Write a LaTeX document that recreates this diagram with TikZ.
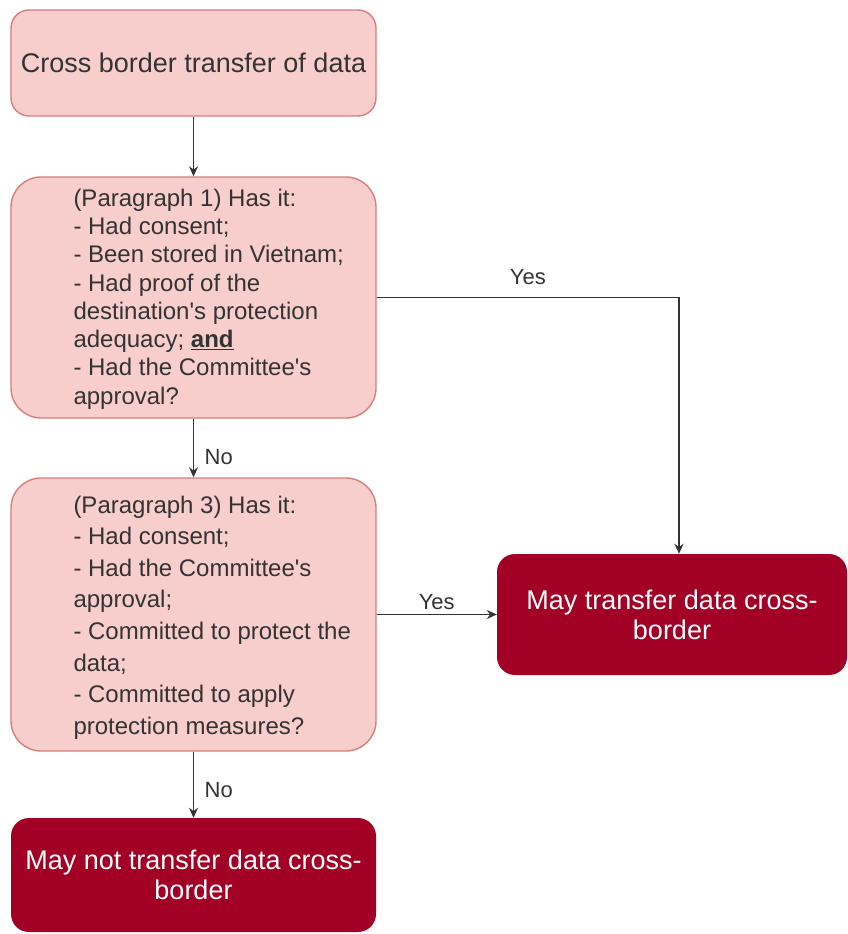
\documentclass[tikz,border=0pt]{standalone}
\usepackage{fontspec}
\setmainfont{Liberation Sans}
\usetikzlibrary{arrows.meta}
\definecolor{pinkfill}{HTML}{F8CECC}
\definecolor{pinkline}{HTML}{D37F7C}
\definecolor{crimson}{HTML}{A20025}
\definecolor{inkgray}{HTML}{333333}

\begin{document}
\begin{tikzpicture}[x=1pt, y=-1pt, >={Stealth[length=10pt,width=9pt]},
  startbox/.style={draw=pinkline, fill=pinkfill, line width=1.4pt, rounded corners=18pt,
    minimum width=365pt, minimum height=106pt, text=inkgray, font=\fontsize{27}{31}\selectfont},
  askbox/.style={draw=pinkline, fill=pinkfill, line width=1.4pt, rounded corners=30pt,
    minimum width=365pt},
  asktext/.style={anchor=west, align=left, text=inkgray, inner sep=0pt},
  endbox/.style={fill=crimson, rounded corners=18pt, text=white, align=center,
    font=\fontsize{27}{30}\selectfont},
  flow/.style={->, draw=inkgray, line width=1.6pt},
  answer/.style={text=inkgray, font=\fontsize{22}{26}\selectfont}]

\useasboundingbox (0,0) rectangle (848,934);

% start
\node[startbox] (start) at (193.5,63) {Cross border transfer of data};

% paragraph 1 test
\node[askbox, minimum height=241pt] (para1) at (193.5,297.5) {};
\node[asktext, font=\fontsize{24}{28.3}\selectfont] (para1txt) at ([xshift=63pt,yshift=-1.5pt]para1.west)
  {(Paragraph 1) Has it:\\
   - Had consent;\\
   - Been stored in Vietnam;\\
   - Had proof of the\\
   destination\textquotesingle s protection\\
   adequacy; \underline{\textbf{and}}\\
   - Had the Committee\textquotesingle s\\
   approval?};

% paragraph 3 test
\node[askbox, minimum height=273pt] (para3) at (193.5,614.5) {};
\node[asktext, font=\fontsize{24}{31.6}\selectfont] (para3txt) at ([xshift=63pt,yshift=-3pt]para3.west)
  {(Paragraph 3) Has it:\\
   - Had consent;\\
   - Had the Committee\textquotesingle s\\
   approval;\\
   - Committed to protect the\\
   data;\\
   - Committed to apply\\
   protection measures?};

% outcomes
\node[endbox, minimum width=350pt, minimum height=121pt] (may) at (672,614.5)
  {May transfer data cross-\\border};
\node[endbox, minimum width=365pt, minimum height=114pt] (maynot) at (193.5,875)
  {May not transfer data cross-\\border};

\draw[flow] (start) -- (para1);
\draw[flow] (para1.east) -| ([xshift=7pt]may.north) node[pos=0.25, above, answer, yshift=9pt] {Yes};
\draw[flow] (para1) -- (para3) node[midway, right, answer, xshift=7pt, yshift=-9pt] {No};
\draw[flow] (para3) -- (may) node[midway, above, answer, yshift=1pt] {Yes};
\draw[flow] (para3) -- (maynot) node[midway, right, answer, xshift=7pt, yshift=-5pt] {No};

\end{tikzpicture}
\end{document}
